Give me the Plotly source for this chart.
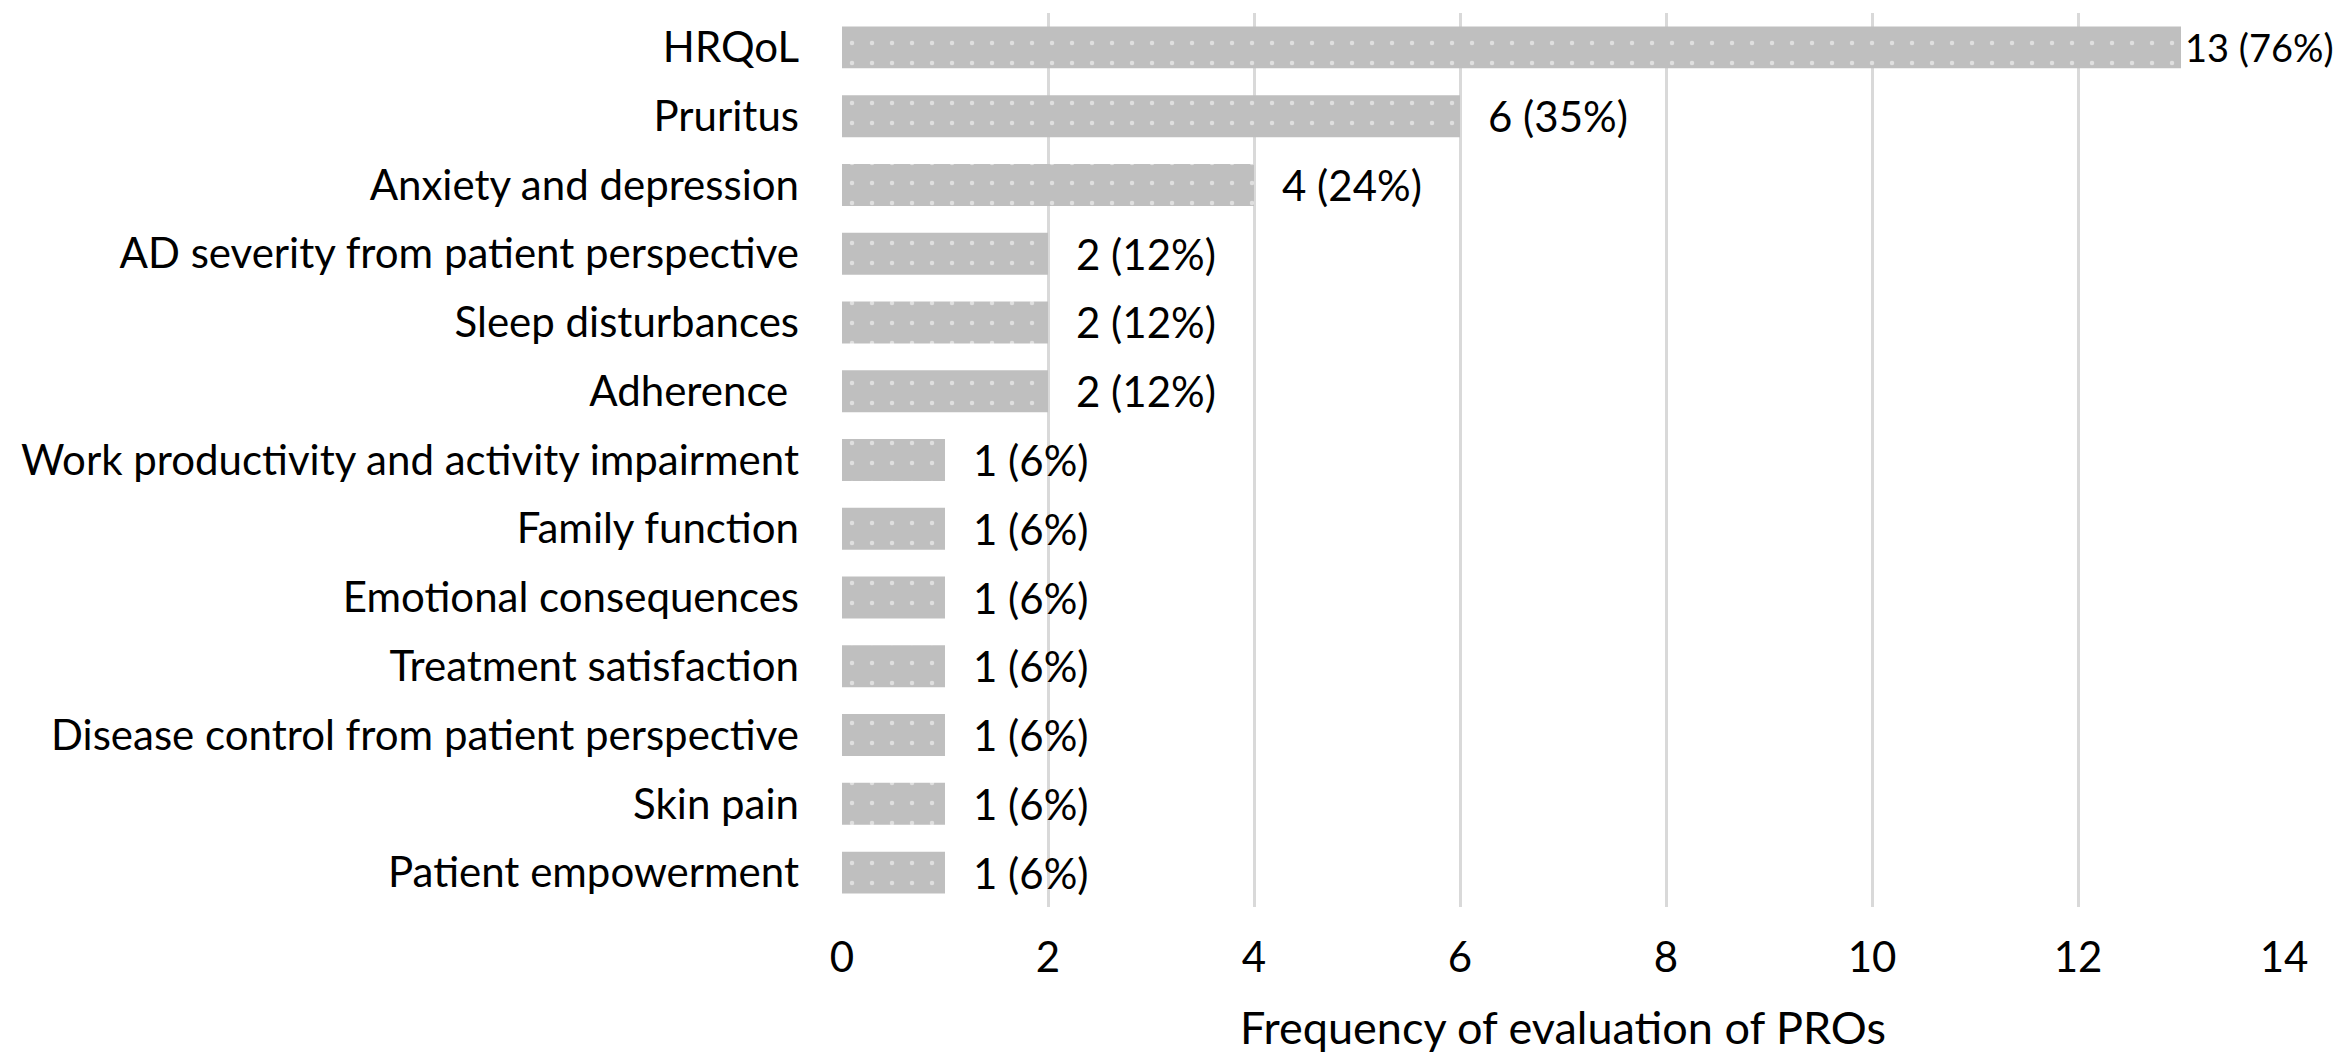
import plotly.graph_objects as go

categories = [
    "HRQoL",
    "Pruritus",
    "Anxiety and depression",
    "AD severity from patient perspective",
    "Sleep disturbances",
    "Adherence\u00a0",
    "Work productivity and activity impairment",
    "Family function",
    "Emotional consequences",
    "Treatment satisfaction",
    "Disease control from patient perspective",
    "Skin pain",
    "Patient empowerment",
]
counts = [13, 6, 4, 2, 2, 2, 1, 1, 1, 1, 1, 1, 1]
percents = [76, 35, 24, 12, 12, 12, 6, 6, 6, 6, 6, 6, 6]
x_ticks = [0, 2, 4, 6, 8, 10, 12, 14]

FONT = "Lato"
FS = 42

labels = [f"{c} ({p}%)" for c, p in zip(counts, percents)]

fig = go.Figure()
fig.add_trace(go.Bar(
    x=counts,
    y=categories,
    orientation="h",
    marker=dict(
        color="#BFBFBF",
        line=dict(width=0),
        pattern=dict(shape=".", fgcolor="#FFFFFF", bgcolor="#BFBFBF",
                     size=20, solidity=0.04, fillmode="overlay"),
    ),
    hoverinfo="skip",
))

max_count = max(counts)
for c, cat, lab in zip(counts, categories, labels):
    near_edge = c == max_count
    fig.add_annotation(x=c, y=cat, text=lab, showarrow=False,
                       xanchor="left", yanchor="middle",
                       xshift=2 if near_edge else 26,
                       font=dict(family=FONT, size=38 if near_edge else FS,
                                 color="#000000"))

fig.update_layout(
    width=2341, height=1062,
    margin=dict(l=834, r=65, t=5, b=163),
    paper_bgcolor="white", plot_bgcolor="white",
    bargap=0.39,
    showlegend=False,
    font=dict(family=FONT, size=FS, color="#000000"),
)
fig.update_xaxes(
    range=[0, 14], tickvals=x_ticks, showgrid=True,
    gridcolor="#D9D9D9", gridwidth=3,
    zeroline=False, showline=False, ticks="",
    ticklabelstandoff=22,
    tickfont=dict(family=FONT, size=FS, color="#000000"),
    title=dict(text="Frequency of evaluation of PROs",
               font=dict(family=FONT, size=45, color="#000000"), standoff=32),
)
fig.update_yaxes(
    categoryorder="array", categoryarray=categories[::-1],
    showgrid=False, zeroline=False, showline=False, ticks="",
    ticklabelstandoff=42,
    tickfont=dict(family=FONT, size=FS, color="#000000"),
)

fig.write_html("out.html")
